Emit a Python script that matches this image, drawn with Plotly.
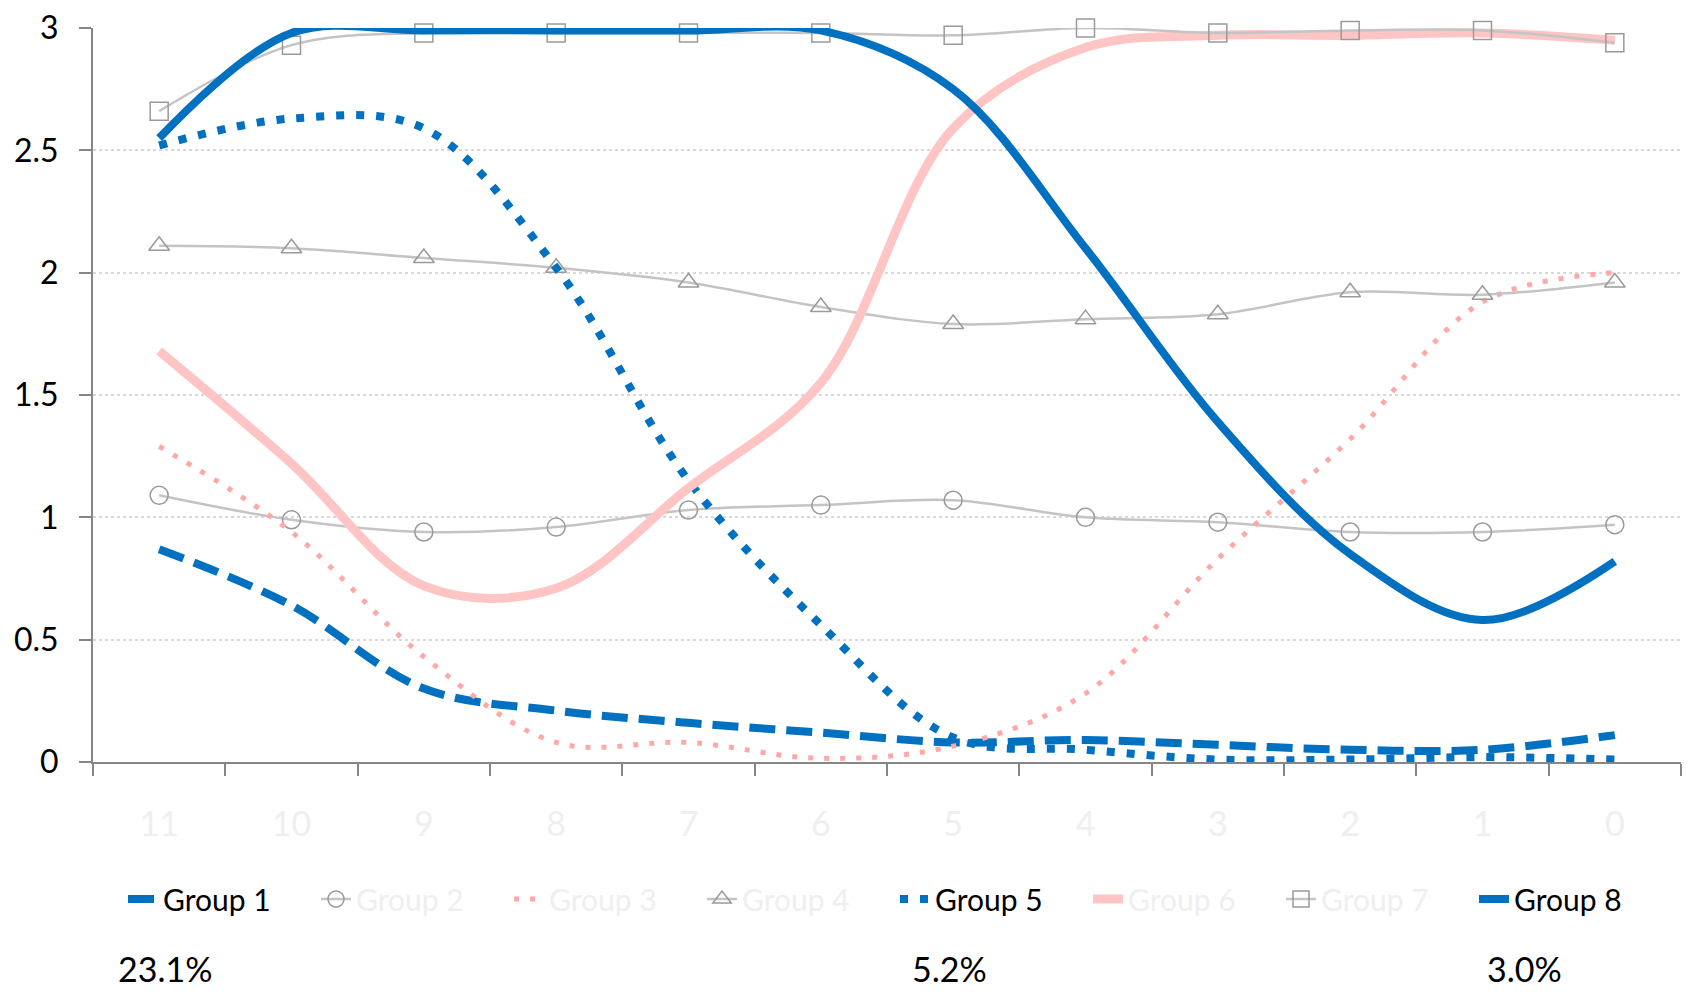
import plotly.graph_objects as go

categories = ["11", "10", "9", "8", "7", "6", "5", "4", "3", "2", "1", "0"]

group1 = [0.87, 0.64, 0.30, 0.21, 0.16, 0.12, 0.08, 0.09, 0.07, 0.05, 0.05, 0.11]
group2 = [1.09, 0.99, 0.94, 0.96, 1.03, 1.05, 1.07, 1.00, 0.98, 0.94, 0.94, 0.97]
group3 = [1.29, 0.94, 0.43, 0.08, 0.08, 0.015, 0.065, 0.28, 0.83, 1.32, 1.88, 2.0]
group4 = [2.11, 2.10, 2.06, 2.02, 1.96, 1.86, 1.79, 1.81, 1.83, 1.92, 1.91, 1.96]
group5 = [2.52, 2.63, 2.59, 2.02, 1.15, 0.56, 0.10, 0.05, 0.01, 0.01, 0.02, 0.01]
group6 = [1.68, 1.22, 0.72, 0.71, 1.12, 1.55, 2.59, 2.92, 2.97, 2.97, 2.98, 2.95]
group7 = [2.66, 2.93, 2.98, 2.98, 2.98, 2.98, 2.97, 3.00, 2.98, 2.99, 2.99, 2.94]
group8 = [2.55, 2.98, 2.99, 2.99, 2.99, 2.99, 2.75, 2.10, 1.39, 0.85, 0.58, 0.82]

pct_labels = ["23.1%", "5.2%", "3.0%"]

BLUE = "#0070C0"
GRAY_LINE = "#c4c4c4"
GRAY_MARK = "#9a9a9a"
RED_LIGHT = "#ffc4c4"
FADED = "#efefef"
FONT = "Lato, 'Open Sans', sans-serif"
FS_LEG = 30
FS_YTICK = 32
FS_XTICK = 34
FS_PCT = 34

# page has an 8px body margin; figure is sized so it still ends at the window edge
OFF = 8
W, H = 1691 - OFF, 996 - OFF
L, R, T, B = 93 - OFF, 10, 28 - OFF, 234
PW = W - L - R
PH = H - T - B

def px_x(page_x):
    return (page_x - OFF - L) / PW

def px_y(page_y):
    return (H - B - (page_y - OFF)) / PH

def faded(name):
    return f"<span style='color:{FADED}'>{name}</span>"

fig = go.Figure()

fig.add_trace(go.Scatter(x=categories, y=group1, name="Group 1", mode="lines",
                         line=dict(color=BLUE, width=8, dash="26px,11px", shape="spline"),
                         cliponaxis=False))
fig.add_trace(go.Scatter(x=categories, y=group2, name=faded("Group 2"), mode="lines+markers",
                         line=dict(color=GRAY_LINE, width=2.5, shape="spline"),
                         marker=dict(symbol="circle-open", size=18, color=GRAY_MARK, line=dict(width=1.5)),
                         cliponaxis=False))
fig.add_trace(go.Scatter(x=categories, y=group3, name=faded("Group 3"), mode="lines",
                         line=dict(color="#ffa8a8", width=5, dash="5px,11px", shape="spline"),
                         cliponaxis=False))
fig.add_trace(go.Scatter(x=categories, y=group4, name=faded("Group 4"), mode="lines+markers",
                         line=dict(color=GRAY_LINE, width=2.5, shape="spline"),
                         marker=dict(symbol="triangle-up-open", size=18, color=GRAY_MARK, line=dict(width=1.5)),
                         cliponaxis=False))
fig.add_trace(go.Scatter(x=categories, y=group5, name="Group 5", mode="lines",
                         line=dict(color=BLUE, width=8, dash="8px,12px", shape="spline"),
                         cliponaxis=False))
fig.add_trace(go.Scatter(x=categories, y=group6, name=faded("Group 6"), mode="lines",
                         line=dict(color=RED_LIGHT, width=9, shape="spline"),
                         cliponaxis=False))
fig.add_trace(go.Scatter(x=categories, y=group7, name=faded("Group 7"), mode="lines+markers",
                         line=dict(color=GRAY_LINE, width=2.5, shape="spline"),
                         marker=dict(symbol="square-open", size=18, color=GRAY_MARK, line=dict(width=1.5)),
                         cliponaxis=False))
fig.add_trace(go.Scatter(x=categories, y=group8, name="Group 8", mode="lines",
                         line=dict(color=BLUE, width=8, shape="spline"),
                         cliponaxis=False))

pct_x = [165, 949, 1524]
for lab, pxv in zip(pct_labels, pct_x):
    fig.add_annotation(text=lab, xref="paper", yref="paper",
                       x=px_x(pxv), y=px_y(968),
                       showarrow=False, xanchor="center", yanchor="middle",
                       font=dict(size=FS_PCT, color="black", family=FONT))

fig.update_layout(
    width=W, height=H,
    margin=dict(l=L, r=R, t=T, b=B, autoexpand=False),
    paper_bgcolor="white", plot_bgcolor="white",
    font=dict(family=FONT, size=FS_LEG, color="black"),
    showlegend=True,
    legend=dict(orientation="h", x=px_x(123), xanchor="left", y=px_y(899), yanchor="middle",
                font=dict(size=FS_LEG, color="black", family=FONT),
                entrywidth=148, itemwidth=30, traceorder="normal"),
)

fig.update_xaxes(type="category", showgrid=False, showline=True, linecolor="#868686", linewidth=2,
                 ticks="outside", tickson="boundaries", ticklen=12, tickcolor="#868686", tickwidth=2,
                 tickfont=dict(size=FS_XTICK, color=FADED, family=FONT), ticklabelstandoff=31,
                 ticklabeloverflow="allow",
                 range=[-0.5, 11.5], zeroline=False, automargin=False)
fig.update_yaxes(range=[0, 3], tickvals=[0, 0.5, 1, 1.5, 2, 2.5, 3],
                 ticktext=["0", "0.5", "1", "1.5", "2", "2.5", "3"],
                 showgrid=True, gridcolor="#d9d9d9", griddash="dot", gridwidth=1.5,
                 showline=True, linecolor="#868686", linewidth=2,
                 ticks="outside", ticklen=12, tickcolor="#868686", tickwidth=2,
                 tickfont=dict(size=FS_YTICK, color="black", family=FONT), ticklabelstandoff=14,
                 ticklabeloverflow="allow",
                 zeroline=False, automargin=False)

fig.write_html("out.html")
